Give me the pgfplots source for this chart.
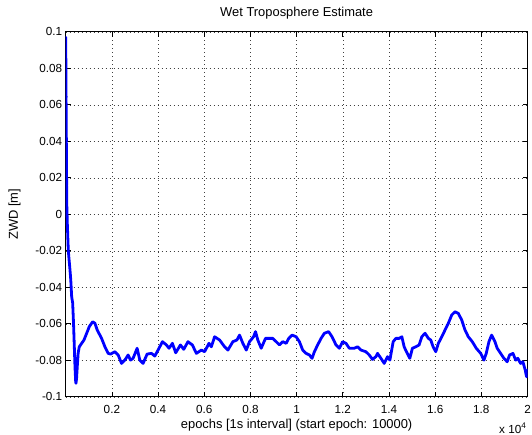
\documentclass[border=0pt]{standalone}
\usepackage{fontspec}
\setmainfont{Liberation Sans}
\usepackage{pgfplots}
\usepackage{pgfplotstable}
\pgfplotsset{compat=1.18}
\pgfplotstableread{
x y
0 0.097
6 0.088
3 0.091
10 0.080
5 0.084
14 0.072
8 0.076
18 0.064
11 0.068
22 0.056
15 0.060
26 0.048
19 0.052
30 0.040
24 0.044
34 0.032
28 0.036
38 0.024
33 0.028
42 0.016
37 0.020
43 0.007
55 0.002
70 -0.005
90 -0.012
112 -0.0196
140 -0.024
186 -0.0305
220 -0.036
259 -0.0452
302 -0.0486
340 -0.060
402 -0.0835
432 -0.0917
445 -0.0926
470 -0.090
501 -0.0835
540 -0.076
588 -0.0726
691 -0.0707
791 -0.0689
877 -0.0662
1020 -0.0616
1166 -0.0589
1266 -0.0597
1365 -0.0634
1555 -0.0680
1698 -0.0726
1840 -0.0762
1944 -0.0766
2130 -0.0753
2272 -0.0771
2419 -0.0817
2562 -0.0799
2704 -0.0771
2808 -0.0799
2920 -0.0789
3093 -0.0734
3210 -0.0799
3352 -0.0817
3525 -0.0766
3715 -0.0762
3858 -0.0777
4000 -0.0744
4190 -0.0698
4363 -0.0716
4476 -0.0734
4622 -0.0707
4765 -0.0759
4968 -0.0716
5111 -0.0740
5296 -0.0698
5486 -0.0716
5659 -0.0762
5875 -0.0744
6018 -0.0753
6204 -0.0707
6307 -0.0726
6450 -0.0671
6666 -0.0689
6882 -0.0726
7024 -0.0744
7240 -0.0698
7413 -0.0689
7530 -0.0662
7672 -0.0707
7819 -0.0744
7962 -0.0698
8135 -0.0671
8221 -0.0643
8320 -0.0689
8467 -0.0734
8653 -0.0680
8826 -0.0680
8968 -0.0680
9115 -0.0698
9258 -0.0716
9400 -0.0698
9547 -0.0707
9660 -0.0680
9806 -0.0662
9979 -0.0671
10122 -0.0698
10264 -0.0744
10411 -0.0762
10554 -0.0771
10670 -0.0789
10770 -0.0753
10912 -0.0716
11059 -0.0680
11202 -0.0652
11388 -0.0643
11534 -0.0671
11707 -0.0716
11850 -0.0734
11992 -0.0698
12139 -0.0707
12282 -0.0734
12498 -0.0734
12640 -0.0726
12787 -0.0744
13003 -0.0753
13146 -0.0771
13288 -0.0795
13435 -0.0780
13504 -0.0762
13651 -0.0789
13794 -0.0817
13936 -0.0780
14040 -0.0799
14183 -0.0698
14299 -0.0680
14442 -0.0680
14558 -0.0671
14658 -0.0726
14757 -0.0753
14904 -0.0789
15016 -0.0734
15163 -0.0726
15306 -0.0716
15422 -0.0671
15565 -0.0652
15708 -0.0680
15811 -0.0689
15911 -0.0726
16027 -0.0753
16140 -0.0707
16286 -0.0671
16429 -0.0634
16572 -0.0597
16718 -0.0552
16861 -0.0534
17004 -0.0543
17150 -0.0579
17293 -0.0634
17436 -0.0671
17608 -0.0698
17781 -0.0734
17971 -0.0762
18114 -0.0799
18213 -0.0762
18330 -0.0698
18446 -0.0662
18589 -0.0698
18688 -0.0734
18835 -0.0762
18978 -0.0789
19120 -0.0808
19224 -0.0771
19370 -0.0762
19487 -0.0799
19580 -0.0789
19700 -0.0817
19800 -0.0808
19900 -0.0853
19960 -0.0890
20000 -0.0853
}\zwd
\begin{document}
\begin{tikzpicture}
\useasboundingbox (0,0) rectangle (532pt,435pt);
\begin{axis}[
  at={(65.7pt,38.2pt)}, anchor=south west,
  scale only axis, width=461.8pt, height=365pt,
  xmin=0, xmax=20000, ymin=-0.1, ymax=0.1,
  xtick={2000,4000,...,20000},
  xticklabels={0.2,0.4,0.6,0.8,1,1.2,1.4,1.6,1.8,2},
  ytick={-0.1,-0.08,-0.06,-0.04,-0.02,0,0.02,0.04,0.06,0.08,0.1},
  yticklabels={-0.1,-0.08,-0.06,-0.04,-0.02,0,0.02,0.04,0.06,0.08,0.1},
  scaled ticks=false,
  tick align=inside, major tick length=5pt,
  grid=major,
  major grid style={black!75, line width=0.5pt, dash pattern=on 0.8pt off 3.2pt},
  axis line style={black, line width=0.8pt},
  tick style={black, line width=0.6pt},
  ticklabel style={font=\fontsize{11.7}{13}\selectfont},
  xticklabel style={anchor=base, yshift=-16.5pt},
  title={Wet Troposphere Estimate},
  title style={font=\fontsize{12.9}{15}\selectfont, at={(axis description cs:0.5,1)}, anchor=base, yshift=9.4pt},
  xlabel={epochs [1s interval] (start epoch: 10000)},
  xlabel style={font=\fontsize{12.9}{15}\selectfont, at={(axis description cs:0.5,0)}, anchor=base, yshift=-31.5pt},
  ylabel={ZWD [m]},
  ylabel style={font=\fontsize{12.9}{15}\selectfont, at={(axis description cs:-0.1033,0.5)}, anchor=base},
]
\addplot[color={rgb,1:red,0;green,0;blue,1}, line width=2.8pt, line join=round, line cap=round] table[x=x, y=y] {\zwd};
\end{axis}
\node[anchor=base west, font=\fontsize{11.7}{13}\selectfont, inner sep=0pt] at (499pt,1.7pt) {x 10\textsuperscript{4}};
\end{tikzpicture}
\end{document}
